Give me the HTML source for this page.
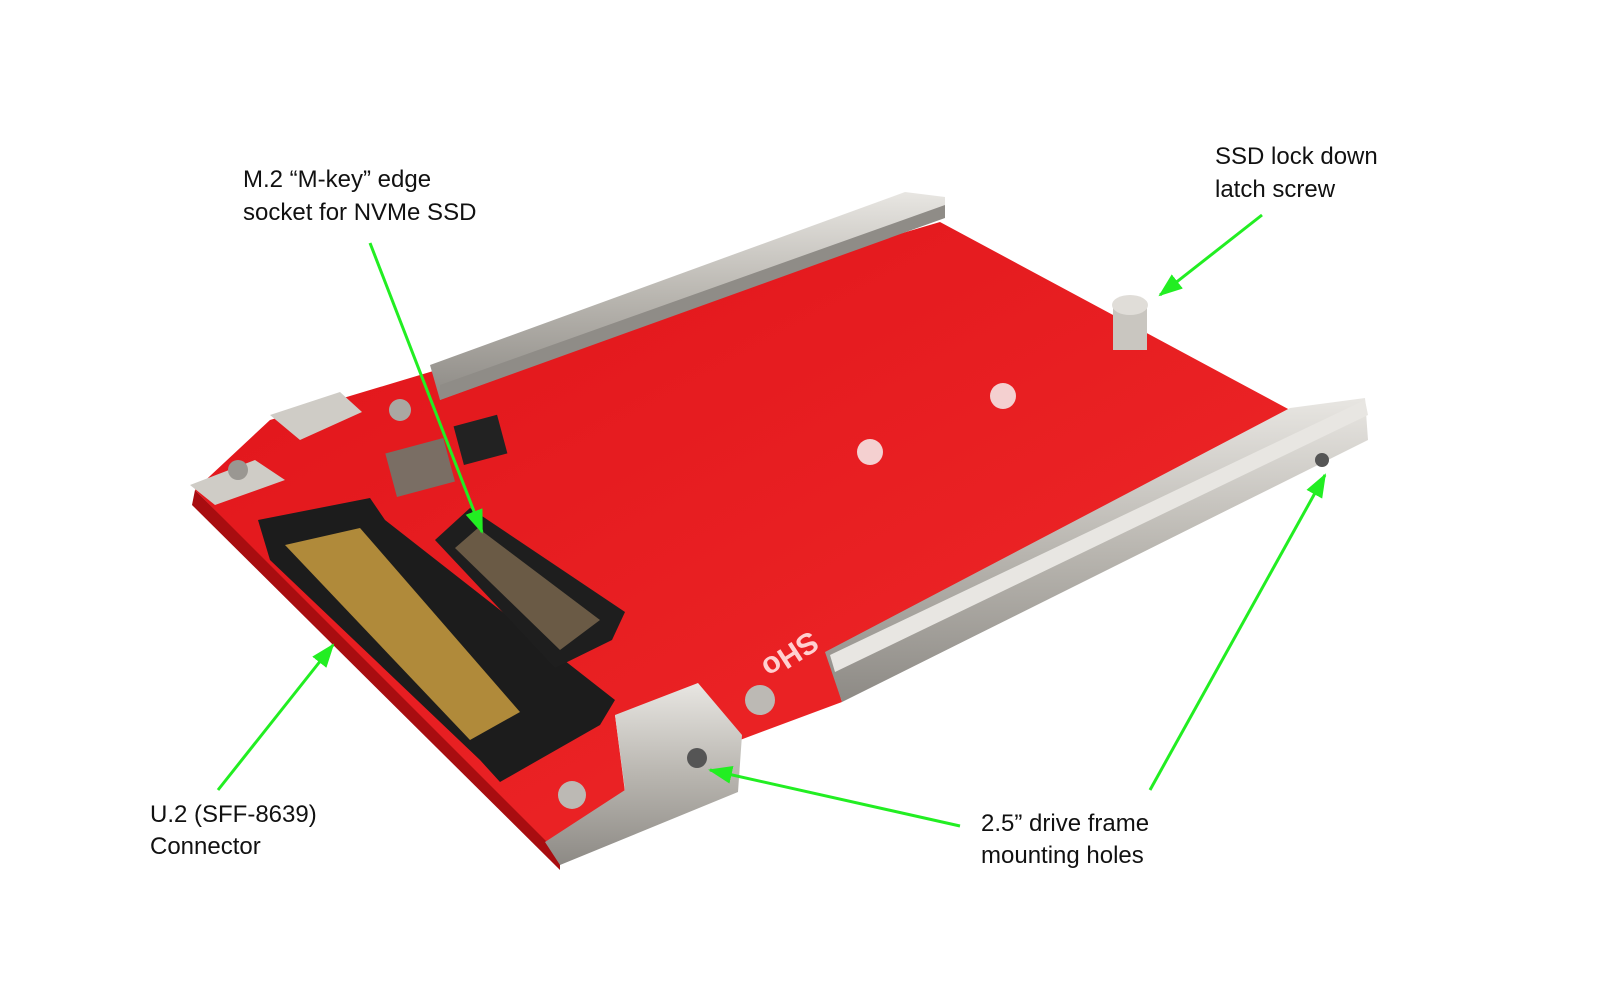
<!DOCTYPE html>
<html><head><meta charset="utf-8"><style>
html,body{margin:0;padding:0;background:#fff;}
svg{display:block}
text{font-family:"Liberation Sans",Arial,sans-serif;}
</style></head><body>
<svg width="1600" height="1002" viewBox="0 0 1600 1002" xmlns="http://www.w3.org/2000/svg">
<defs>
<linearGradient id="metal" x1="0" y1="0" x2="0" y2="1"><stop offset="0" stop-color="#e8e6e2"/><stop offset="0.5" stop-color="#b9b6b0"/><stop offset="1" stop-color="#8d8a85"/></linearGradient>
<linearGradient id="red" x1="0" y1="0" x2="1" y2="1"><stop offset="0" stop-color="#e0141a"/><stop offset="1" stop-color="#f02a2a"/></linearGradient>
<marker id="ah" markerWidth="24" markerHeight="18" refX="22" refY="9" orient="auto" markerUnits="userSpaceOnUse" viewBox="0 0 24 18"><path d="M0,0 L24,9 L0,18 z" fill="#22ee22"/></marker>
</defs>
<polygon points="195,490 560,850 560,870 192,505" fill="#a80d10"/>
<polygon points="270,420 430,372 940,222 1290,410 1350,420 830,662 842,702 740,740 615,715 625,792 560,855 195,490" fill="url(#red)"/>
<polygon points="430,365 905,192 945,197 945,215 440,400" fill="url(#metal)"/>
<polygon points="440,385 945,205 945,218 440,400" fill="#8f8c87"/>
<polygon points="270,415 340,392 362,412 300,440" fill="#cfccc6"/>
<polygon points="190,485 255,460 285,480 215,505" fill="#cfccc6"/>
<circle cx="238" cy="470" r="10" fill="#9a9792"/>
<circle cx="400" cy="410" r="11" fill="#aaa7a2"/>
<rect x="390" y="445" width="60" height="45" fill="#7a6e64" transform="rotate(-15 420 467)"/>
<rect x="458" y="420" width="45" height="40" fill="#222" transform="rotate(-15 480 440)"/>
<polygon points="258,520 370,498 385,520 615,700 600,725 500,782 480,760 270,560" fill="#1c1c1c"/>
<polygon points="285,545 360,528 520,712 470,740" fill="#b08a3a"/>
<polygon points="435,540 470,508 625,612 612,640 555,668" fill="#1e1e1e"/>
<polygon points="455,548 478,528 600,620 560,650" fill="#6a5a45"/>
<circle cx="870" cy="452" r="13" fill="#f4d0d0"/>
<circle cx="1003" cy="396" r="13" fill="#f4d0d0"/>
<rect x="1113" y="305" width="34" height="45" fill="#c9c6c0"/>
<ellipse cx="1130" cy="305" rx="18" ry="10" fill="#e0ddd8"/>
<text x="0" y="0" fill="#ffd0d0" font-size="30" font-weight="bold" transform="translate(810,630) rotate(-33) scale(-1,-1)">SHo</text>
<text x="0" y="0" fill="#fff" font-size="28" transform="translate(1130,580) rotate(-24) scale(-1,-1)" opacity="0.6">L28R</text>
<polygon points="825,652 1290,408 1365,398 1368,440 842,702" fill="url(#metal)"/>
<polygon points="830,655 1365,400 1368,415 835,672" fill="#e8e6e2"/>
<polygon points="615,715 698,683 742,735 738,792 560,865 545,842 625,790" fill="url(#metal)"/>
<circle cx="697" cy="758" r="10" fill="#555"/>
<circle cx="572" cy="795" r="14" fill="#bcb9b4"/>
<circle cx="760" cy="700" r="15" fill="#bcb9b4"/>
<circle cx="1322" cy="460" r="7" fill="#555"/>
<g stroke="#22ee22" stroke-width="3" fill="none" marker-end="url(#ah)">
<line x1="370" y1="243" x2="482" y2="532"/>
<line x1="1262" y1="215" x2="1160" y2="295"/>
<line x1="218" y1="790" x2="333" y2="645"/>
<line x1="960" y1="826" x2="710" y2="770"/>
<line x1="1150" y1="790" x2="1325" y2="475"/>
</g>
<g font-size="24" fill="#111">
<text x="243" y="187">M.2 “M-key” edge</text>
<text x="243" y="220">socket for NVMe SSD</text>
<text x="1215" y="164">SSD lock down</text>
<text x="1215" y="197">latch screw</text>
<text x="150" y="822">U.2 (SFF-8639)</text>
<text x="150" y="854">Connector</text>
<text x="981" y="831">2.5” drive frame</text>
<text x="981" y="863">mounting holes</text>
</g>
</svg>
</body></html>
